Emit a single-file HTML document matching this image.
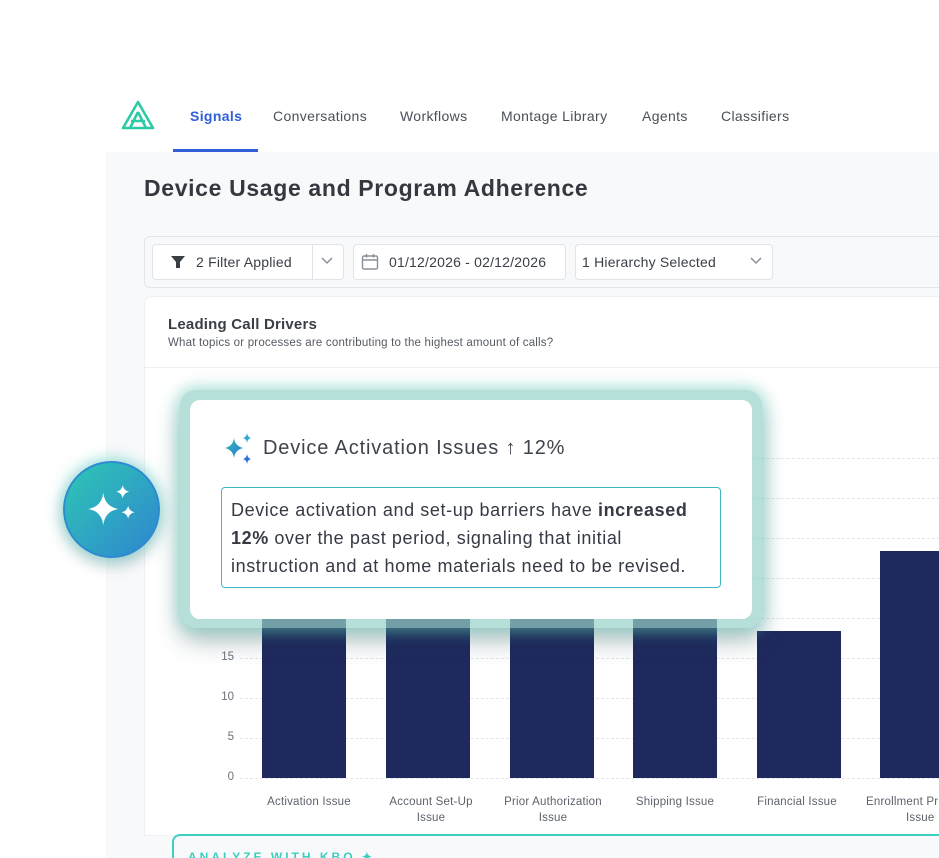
<!DOCTYPE html>
<html><head><style>
*{margin:0;padding:0;box-sizing:border-box}
html,body{width:939px;height:858px;overflow:hidden}
body{background:#fff;font-family:"Liberation Sans",sans-serif;position:relative;color:#343a46}
.a{position:absolute}
.nav{font-size:14px;color:#4a4f5a;top:108px;letter-spacing:0.35px}
.grid{position:absolute;left:240px;width:700px;border-top:1px dashed #e3e5ea;height:0}
.yl{position:absolute;width:30px;text-align:right;left:204px;font-size:11.5px;color:#6b7079}
.bar{position:absolute;background:#1f295e;bottom:80px}
.xl{position:absolute;font-size:11.5px;color:#5d626c;text-align:center;width:130px;line-height:16px;top:794px;letter-spacing:0.2px}
</style></head><body>
<svg class="a" style="left:121px;top:100px" width="34" height="32" viewBox="0 0 34 32"><g fill="none" stroke="#2ec9a7" stroke-width="2.6" stroke-linejoin="round"><path d="M17 2 L32 28 L2 28 Z"/><path d="M17 12 L25 28 M17 12 L9 28 M10 21 L24 21"/></g></svg>
<div class="a nav" style="left:190px;color:#2f5fd8;font-weight:bold">Signals</div>
<div class="a nav" style="left:273px">Conversations</div>
<div class="a nav" style="left:400px">Workflows</div>
<div class="a nav" style="left:501px">Montage Library</div>
<div class="a nav" style="left:642px">Agents</div>
<div class="a nav" style="left:721px">Classifiers</div>
<div class="a" style="left:173px;top:149px;width:85px;height:3px;background:#2f5fd8"></div>
<div class="a" style="left:106px;top:152px;width:833px;height:706px;background:#f8f9fb"></div>
<div class="a" style="left:144px;top:175px;font-size:23px;font-weight:bold;color:#35393f;letter-spacing:0.65px">Device Usage and Program Adherence</div>
<div class="a" style="left:144px;top:236px;width:800px;height:52px;border:1px solid #e3e5ea;border-radius:6px;background:#f8f9fb"></div>
<div class="a" style="left:152px;top:244px;width:192px;height:36px;border:1px solid #e1e3e8;border-radius:4px;background:#fff"></div>
<div class="a" style="left:312px;top:245px;width:1px;height:34px;background:#e1e3e8"></div>
<svg class="a" style="left:170px;top:255px" width="16" height="14"><path d="M1 1 H15 L10 7 V13 L6 13 V7 Z" fill="#3a3e47"/></svg>
<div class="a" style="left:196px;top:254px;font-size:14px;color:#3a3e47;letter-spacing:0.2px">2 Filter Applied</div>
<svg class="a" style="left:320px;top:256px" width="14" height="10"><path d="M2 2 L7 7 L12 2" fill="none" stroke="#8a8f98" stroke-width="1.5"/></svg>
<div class="a" style="left:353px;top:244px;width:213px;height:36px;border:1px solid #e1e3e8;border-radius:4px;background:#fff"></div>
<svg class="a" style="left:361px;top:253px" width="18" height="18"><rect x="1.5" y="3" width="15" height="13" rx="1.5" fill="none" stroke="#8a8f98" stroke-width="1.4"/><path d="M1.5 7 H16.5 M5.5 1 V4.5 M12.5 1 V4.5" stroke="#8a8f98" stroke-width="1.4"/></svg>
<div class="a" style="left:389px;top:254px;font-size:14px;color:#3a3e47;letter-spacing:0.2px">01/12/2026 - 02/12/2026</div>
<div class="a" style="left:575px;top:244px;width:198px;height:36px;border:1px solid #e1e3e8;border-radius:4px;background:#fff"></div>
<div class="a" style="left:582px;top:254px;font-size:14px;color:#3a3e47;letter-spacing:0.2px">1 Hierarchy Selected</div>
<svg class="a" style="left:749px;top:256px" width="14" height="10"><path d="M2 2 L7 7 L12 2" fill="none" stroke="#8a8f98" stroke-width="1.5"/></svg>
<div class="a" style="left:144px;top:296px;width:800px;height:540px;background:#fff;border-radius:8px 0 0 0;border:1px solid #eef0f3"></div>
<div class="a" style="left:144px;top:367px;width:800px;height:1px;background:#eceef2"></div>
<div class="a" style="left:168px;top:316px;font-size:15px;font-weight:bold;color:#3a3e47;letter-spacing:0.2px">Leading Call Drivers</div>
<div class="a" style="left:168px;top:337px;font-size:11.5px;color:#555a63;letter-spacing:0.2px">What topics or processes are contributing to the highest amount of calls?</div>
<div class="grid" style="top:458px"></div><div class="grid" style="top:498px"></div><div class="grid" style="top:538px"></div><div class="grid" style="top:578px"></div><div class="grid" style="top:618px"></div><div class="grid" style="top:658px"></div><div class="grid" style="top:698px"></div><div class="grid" style="top:738px"></div><div class="grid" style="top:778px"></div>
<div class="yl" style="top:651px">15</div><div class="yl" style="top:691px">10</div><div class="yl" style="top:731px">5</div><div class="yl" style="top:771px">0</div>
<div class="bar" style="left:262px;width:84px;top:600px"></div>
<div class="bar" style="left:386px;width:84px;top:600px"></div>
<div class="bar" style="left:510px;width:84px;top:600px"></div>
<div class="bar" style="left:633px;width:84px;top:600px"></div>
<div class="bar" style="left:757px;width:84px;top:631px"></div>
<div class="bar" style="left:880px;width:70px;top:551px"></div>
<div class="xl" style="left:244px">Activation Issue</div>
<div class="xl" style="left:366px">Account Set-Up<br>Issue</div>
<div class="xl" style="left:488px">Prior Authorization<br>Issue</div>
<div class="xl" style="left:610px">Shipping Issue</div>
<div class="xl" style="left:732px">Financial Issue</div>
<div class="a" style="left:866px;top:794px;font-size:11.5px;color:#5d626c;line-height:16px;letter-spacing:0.2px;white-space:nowrap">Enrollment Pr<br><span style="padding-left:40px">Issue</span></div>
<div class="a" style="left:172px;top:834px;width:780px;height:40px;border:2px solid #3ccfc0;border-radius:8px;background:#f8f9fb"></div>
<div class="a" style="left:188px;top:850px;font-size:12px;letter-spacing:3px;color:#3ccfc0;font-weight:bold">ANALYZE WITH KBO ✦</div>
<div class="a" style="left:180px;top:390px;width:582px;height:238px;border-radius:16px;background:rgba(150,210,200,.7);box-shadow:0 0 14px 4px rgba(110,210,195,.5),0 14px 24px rgba(20,60,70,.3)"></div>
<div class="a" style="left:190px;top:400px;width:562px;height:219px;border-radius:10px;background:#fff"></div>
<svg class="a" style="left:222px;top:432px" width="34" height="34" viewBox="0 0 34 34"><defs><linearGradient id="g" x1="0" y1="0" x2="1" y2="1"><stop offset="0" stop-color="#2ec4b0"/><stop offset="1" stop-color="#2f6fd8"/></linearGradient></defs><path d="M12 6 Q13 14 21 16 Q13 18 12 26 Q11 18 3 16 Q11 14 12 6Z" fill="url(#g)"/><path d="M25 1 Q25.5 5 29 6 Q25.5 7 25 11 Q24.5 7 21 6 Q24.5 5 25 1Z" fill="#2ea9d0"/><path d="M25 22 Q25.5 26 29 27 Q25.5 28 25 32 Q24.5 28 21 27 Q24.5 26 25 22Z" fill="#2f6fd8"/></svg>
<div class="a" style="left:263px;top:437px;font-size:20px;color:#3e434c;letter-spacing:0.85px">Device Activation Issues ↑ 12%</div>
<div class="a" style="left:221px;top:487px;width:500px;height:101px;border:1.5px solid #3bb8c8;border-radius:4px;padding:8px 9px;font-size:18px;line-height:28px;color:#353a44;letter-spacing:0.6px">Device activation and set-up barriers have <b>increased 12%</b> over the past period, signaling that initial instruction and at home materials need to be revised.</div>
<div class="a" style="left:63px;top:461px;width:97px;height:97px;border-radius:50%;background:linear-gradient(135deg,#2ec7b4,#2f86d0);border:2px solid #2f8bd0;box-shadow:0 0 14px 3px rgba(70,200,190,.5),0 8px 16px rgba(0,0,0,.15)"></div>
<svg class="a" style="left:86px;top:484px" width="54" height="50" viewBox="0 0 50 46"><path d="M16 8 Q17.5 21 30 23 Q17.5 25 16 38 Q14.5 25 2 23 Q14.5 21 16 8Z" fill="#fff"/><path d="M34 1 Q35 6 40 7 Q35 8 34 13 Q33 8 28 7 Q33 6 34 1Z" fill="#fff"/><path d="M39 20 Q40 25 45 26 Q40 27 39 32 Q38 27 33 26 Q38 25 39 20Z" fill="#fff"/></svg>
</body></html>
